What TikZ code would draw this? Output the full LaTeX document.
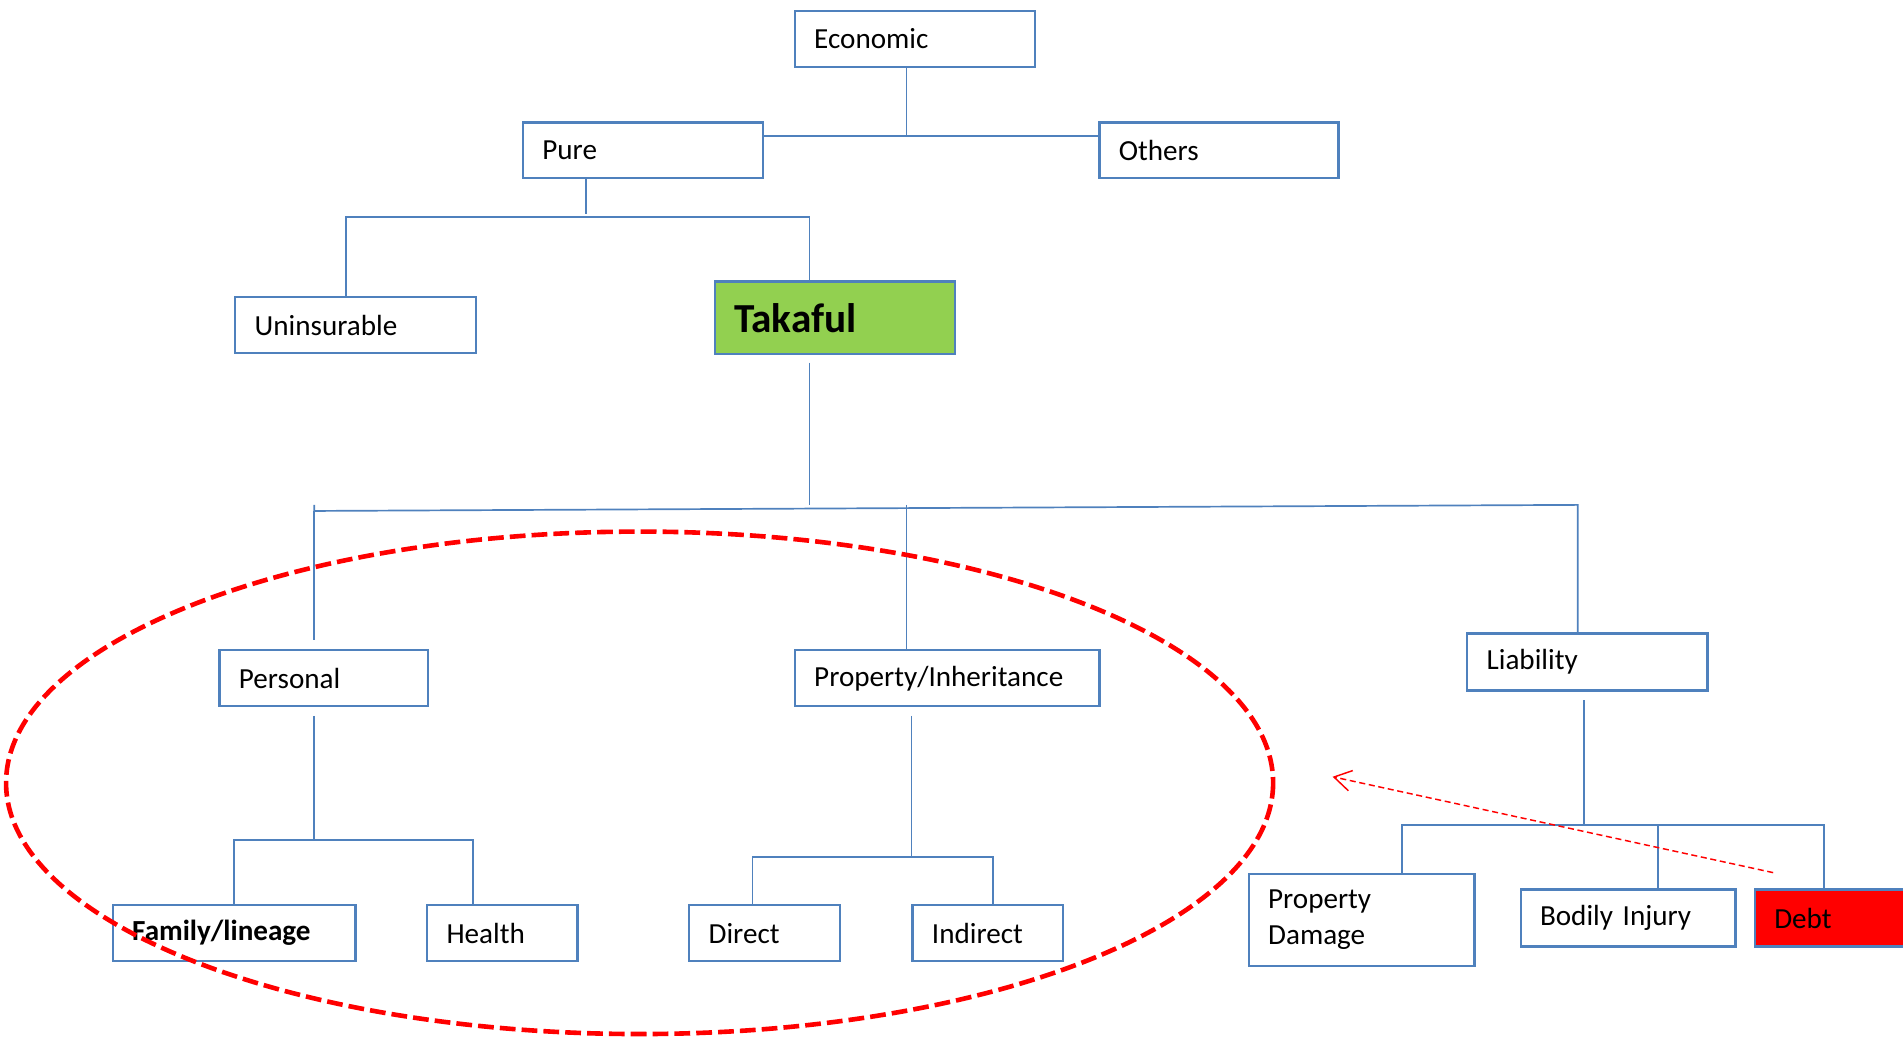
\documentclass[tikz,border=0pt]{standalone}
\usepackage{fontspec}
\setmainfont{Carlito}
\usepackage{tikz}
\usetikzlibrary{arrows.meta}
\definecolor{boxblue}{RGB}{79,129,189}
\definecolor{takafulgreen}{RGB}{146,208,80}
\definecolor{debtred}{RGB}{255,0,0}
\tikzset{
    %Define style for boxes
    riskbox/.style={
           rectangle,
           draw=boxblue, line width=1.8pt,
           anchor=north west,
           minimum height=46pt,
           inner xsep=16pt,
           inner ysep=0pt,
           align=left,
           font=\fontsize{24}{30}\selectfont},
    takafulbox/.style={
           riskbox,
           fill=takafulgreen,
           minimum height=60pt,
           font=\fontsize{34}{40}\selectfont\bfseries},
    debtbox/.style={
           riskbox,
           fill=debtred},
    % Define connector styles
    link/.style={
           draw=boxblue,
           line width=1.4pt},
    circling/.style={
           draw=red,
           line width=3.8pt,
           dash pattern=on 13pt off 5pt},
    pointer/.style={
           -{Straight Barb[length=14pt,width=17pt]},
           draw=red,
           line width=1.2pt,
           dash pattern=on 5pt off 3pt}
}
\begin{document}
\begin{tikzpicture}[x=1pt,y=-1pt]
\useasboundingbox (0,0) rectangle (1568,854);
\clip (0,0) rectangle (1568,854);
% top levels
\node[riskbox, text width=166pt] (econ) at (654,8) {Economic};
\node[riskbox, text width=166pt] (pure) at (430,100) {Pure};
\node[riskbox, text width=165pt] (others) at (905,100) {Others};
\node[riskbox, text width=166pt] (unins) at (193,244) {Uninsurable};
\node[takafulbox, text width=166pt] (takaful) at (588,231) {Takaful};
% second level
\node[riskbox, text width=140pt] (personal) at (180,535) {Personal};
\node[riskbox, text width=219pt] (property) at (654,535) {Property/Inheritance};
\node[riskbox, text width=166pt, minimum height=47pt] (liab) at (1208,521) {Liability};
% third level
\node[riskbox, text width=168pt] (family) at (92,745) {\bfseries Family/lineage};
\node[riskbox, text width=92pt] (health) at (351,745) {Health};
\node[riskbox, text width=92pt] (direct) at (567,745) {Direct};
\node[riskbox, text width=92pt] (indirect) at (751,745) {Indirect};
\node[riskbox, text width=154pt, minimum height=76pt] (propdmg) at (1028,719) {Property\\Damage};
\node[riskbox, text width=145pt, minimum height=47pt] (bodily) at (1252,732) {Bodily Injury};
\node[debtbox, text width=166pt, minimum height=47pt] (debt) at (1445,732) {Debt};
% junctions
\coordinate (j1) at (747,112);
\coordinate (j2) at (483,176);
\coordinate (j2l) at (285,179);
\coordinate (j2r) at (667,179);
\coordinate (j3) at (667,416);
\coordinate (bt) at (259,416);
\coordinate (bl) at (259,421);
\coordinate (bm) at (747,416);
\coordinate (br) at (1300,416);
\coordinate (pj) at (259,692);
\coordinate (pl) at (193,692);
\coordinate (pr) at (390,692);
\coordinate (qj) at (751,706);
\coordinate (ql) at (620,706);
\coordinate (qr) at (818,706);
\coordinate (lj) at (1305,680);
\coordinate (ll) at (1155,680);
\coordinate (lm) at (1366,680);
\coordinate (lr) at (1503,680);
\coordinate (arrstart) at (1461,719);
\coordinate (arrend) at (1098,640);
% connectors
\draw[link] (econ.south -| j1) -- (j1);
\draw[link] (pure.east |- j1) -- (others.west |- j1);
\draw[link] (pure.south -| j2) -- (j2);
\draw[link] (unins.north -| j2l) -- (j2l) -- (j2r) -- (takaful.north -| j2r);
\draw[link, shorten <=6pt] (takaful.south -| j3) -- (j3);
\draw[link] (bt) -- (bl) -- (br) -- (liab.north -| br);
\draw[link, shorten >=8pt] (bl) -- (personal.north -| bl);
\draw[link] (bm) -- (property.north -| bm);
\draw[link, shorten <=7pt] (personal.south -| pj) -- (pj);
\draw[link] (family.north -| pl) -- (pl) -- (pr) -- (health.north -| pr);
\draw[link, shorten <=7pt] (property.south -| qj) -- (qj);
\draw[link] (direct.north -| ql) -- (ql) -- (qr) -- (indirect.north -| qr);
\draw[link, shorten <=7pt] (liab.south -| lj) -- (lj);
\draw[link] (propdmg.north -| ll) -- (ll) -- (lr) -- (debt.north -| lr);
\draw[link] (lm) -- (bodily.north -| lm);
% red marks
\draw[circling] (527,645) ellipse [x radius=522, y radius=207];
\draw[pointer] (arrstart) -- (arrend);
\end{tikzpicture}
\end{document}
